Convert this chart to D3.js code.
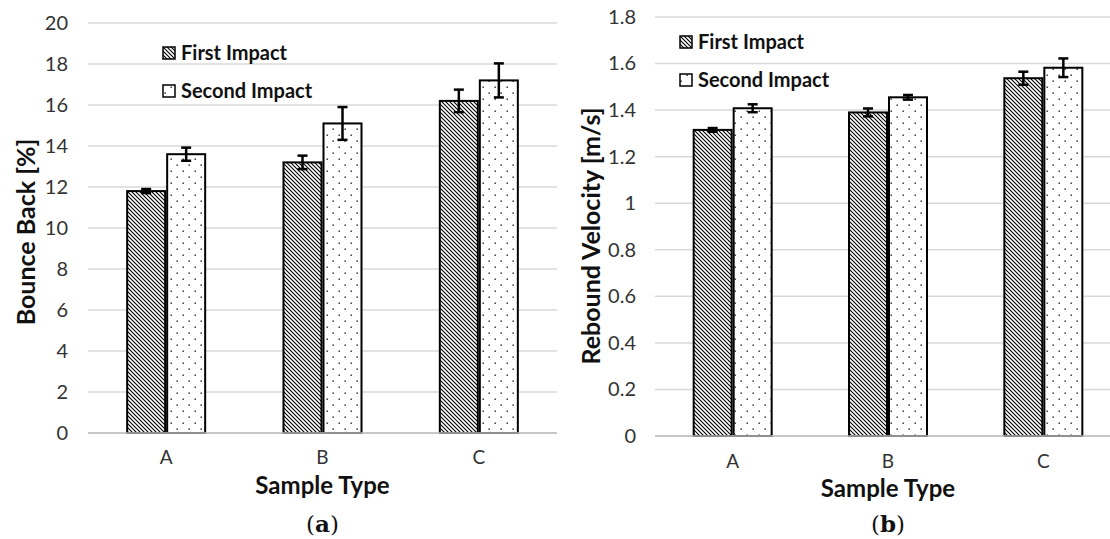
<!DOCTYPE html>
<html><head><meta charset="utf-8">
<script src="https://cdn.jsdelivr.net/npm/d3@7"></script>
<style>body{margin:0;background:#fff}svg{display:block}</style>
</head><body>
<svg id="c" width="1110" height="539"></svg>
<script>
const categories = ["A","B","C"];
const seriesNames = ["First Impact","Second Impact"];
// (a) Bounce back [%]
const bounceFirst = [11.8, 13.2, 16.2];
const bounceSecond = [13.6, 15.1, 17.2];
const bounceFirstErr = [0.1, 0.33, 0.55];
const bounceSecondErr = [0.32, 0.8, 0.83];
const bounceTicks = [0,2,4,6,8,10,12,14,16,18,20];
// (b) Rebound velocity [m/s]
const velFirst = [1.315, 1.39, 1.537];
const velSecond = [1.408, 1.455, 1.582];
const velFirstErr = [0.008, 0.017, 0.028];
const velSecondErr = [0.017, 0.01, 0.04];
const velTicks = [0,0.2,0.4,0.6,0.8,1,1.2,1.4,1.6,1.8];

const svg = d3.select("#c");
const defs = svg.append("defs");
const p1 = defs.append("pattern").attr("id","diag").attr("patternUnits","userSpaceOnUse").attr("width",4).attr("height",4);
p1.append("rect").attr("width",4).attr("height",4).attr("fill","#fff");
p1.append("path").attr("d","M-1,-1L5,5M-1,3L1,5M3,-1L5,1").attr("stroke","#000").attr("stroke-width",1.1);
const p2 = defs.append("pattern").attr("id","dots").attr("patternUnits","userSpaceOnUse").attr("width",12).attr("height",12);
p2.append("rect").attr("width",12).attr("height",12).attr("fill","#fff");
p2.append("rect").attr("x",2.5).attr("y",2.5).attr("width",1.4).attr("height",1.4).attr("fill","#222");
p2.append("rect").attr("x",8.5).attr("y",8.5).attr("width",1.4).attr("height",1.4).attr("fill","#222");
const fills = ["url(#diag)","url(#dots)"];
const FONT = "Lato, 'Open Sans', sans-serif";

function panel(cfg){
  const g = svg.append("g");
  const x = d3.scaleBand().domain(categories).range([cfg.x0, cfg.x1]).paddingInner(0).paddingOuter(0);
  const y = d3.scaleLinear().domain([0, cfg.max]).range([cfg.y0, cfg.y1]);
  const xs = d3.scaleBand().domain([0,1]).range([0, 78]).paddingInner(0.05);
  // grid
  g.append("g").selectAll("line").data(cfg.ticks).join("line")
    .attr("x1",cfg.x0).attr("x2",cfg.x1).attr("y1",d=>y(d)).attr("y2",d=>y(d))
    .attr("stroke","#d9d9d9").attr("stroke-width",1.5);
  // y axis labels
  const ya = d3.axisLeft(y).tickValues(cfg.ticks).tickSize(0).tickPadding(0).tickFormat(d=>String(d));
  const yg = g.append("g").attr("transform",`translate(${cfg.labelX},0)`).call(ya);
  yg.select(".domain").remove();
  yg.selectAll("text").attr("font-family",FONT).attr("font-size",20).attr("fill","#333");
  // x axis labels
  const xa = d3.axisBottom(x).tickSize(0).tickPadding(0);
  const xg = g.append("g").attr("transform",`translate(0,${cfg.y0+cfg.tickOff})`).call(xa);
  xg.select(".domain").remove();
  xg.selectAll("text").attr("font-family",FONT).attr("font-size",19).attr("fill","#333");
  // bars
  const data = [];
  categories.forEach((c,i)=>{
    data.push({c, s:0, v:cfg.first[i], e:cfg.firstErr[i]});
    data.push({c, s:1, v:cfg.second[i], e:cfg.secondErr[i]});
  });
  const bx = d => x(d.c) + x.bandwidth()/2 - 39 + xs(d.s);
  g.append("g").selectAll("rect").data(data).join("rect")
    .attr("x", bx).attr("width", xs.bandwidth())
    .attr("y", d=>y(d.v)).attr("height", d=>y(0)-y(d.v))
    .attr("fill", d=>fills[d.s]).attr("stroke","#000").attr("stroke-width",2);
  // baseline
  g.append("line").attr("x1",cfg.x0).attr("x2",cfg.x1).attr("y1",y(0)).attr("y2",y(0)).attr("stroke","#bfbfbf").attr("stroke-width",1.5);
  // error bars
  const eg = g.append("g").attr("stroke","#000").attr("stroke-width",2.5);
  data.forEach(d=>{
    const cx = bx(d) + xs.bandwidth()/2;
    eg.append("line").attr("x1",cx).attr("x2",cx).attr("y1",y(d.v+d.e)).attr("y2",y(d.v-d.e));
    eg.append("line").attr("x1",cx-5).attr("x2",cx+5).attr("y1",y(d.v+d.e)).attr("y2",y(d.v+d.e));
    eg.append("line").attr("x1",cx-5).attr("x2",cx+5).attr("y1",y(d.v-d.e)).attr("y2",y(d.v-d.e));
  });
  // legend
  seriesNames.forEach((n,i)=>{
    const ly = cfg.legY + i*cfg.legGap;
    g.append("rect").attr("x",cfg.legX).attr("y",ly-6).attr("width",12).attr("height",12)
      .attr("fill",fills[i]).attr("stroke","#000").attr("stroke-width",1.5);
    g.append("text").attr("x",cfg.legX+18).attr("y",ly).attr("dy","0.35em")
      .attr("font-family",FONT).attr("font-weight","bold").attr("font-size",20).attr("fill","#111").text(n);
  });
  // axis titles
  const mid = x("B") + x.bandwidth()/2;
  g.append("text").attr("x",mid).attr("y",cfg.titleBase).attr("text-anchor","middle")
    .attr("font-family",FONT).attr("font-weight","bold").attr("font-size",24).attr("fill","#111").text("Sample Type");
  g.append("text").attr("transform",`translate(${cfg.titleX},${cfg.titleY}) rotate(-90)`).attr("text-anchor","middle")
    .attr("font-family",FONT).attr("font-weight","bold").attr("font-size",25).attr("fill","#111").text(cfg.title);
  const cap = g.append("text").attr("x",mid).attr("y",532).attr("text-anchor","middle")
    .attr("font-family","'DejaVu Serif', 'Liberation Serif', serif").attr("font-size",23).attr("fill","#111");
  cap.append("tspan").text("(");
  cap.append("tspan").attr("font-weight","bold").text(cfg.cap);
  cap.append("tspan").text(")");
}

panel({x0:88, x1:557, y0:433, y1:23, max:20, ticks:bounceTicks, labelX:68, tickOff:17,
  first:bounceFirst, second:bounceSecond, firstErr:bounceFirstErr, secondErr:bounceSecondErr,
  legX:163, legY:53, legGap:38, title:"Bounce Back [%]", titleX:35, titleY:232, titleBase:494, cap:"a"});
panel({x0:655, x1:1121, y0:436, y1:17, max:1.8, ticks:velTicks, labelX:636, tickOff:18,
  first:velFirst, second:velSecond, firstErr:velFirstErr, secondErr:velSecondErr,
  legX:680, legY:42, legGap:38, title:"Rebound Velocity [m/s]", titleX:600, titleY:236, titleBase:497, cap:"b"});
</script>
</body></html>
